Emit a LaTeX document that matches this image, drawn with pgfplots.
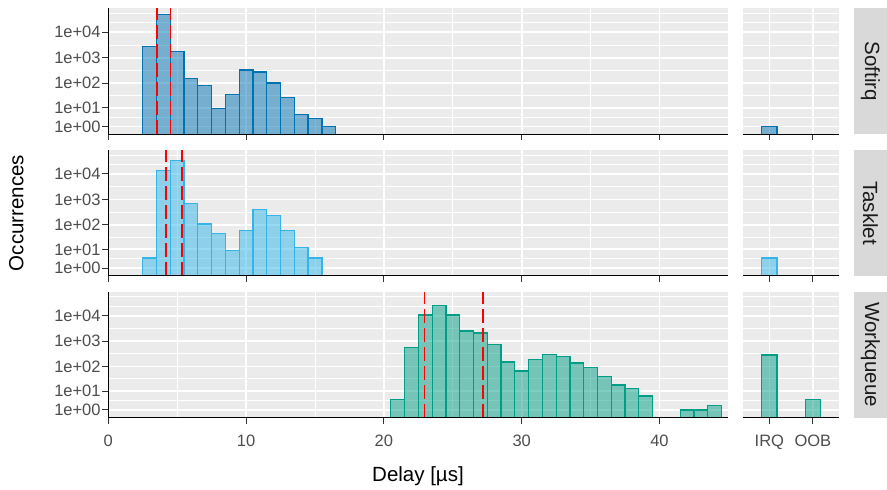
\documentclass[border=0pt]{standalone}
\usepackage{pgfplots}
\usepackage{pgfplotstable}
\pgfplotsset{compat=1.18}
\usepackage{fontspec}
\setmainfont{Liberation Sans}
\definecolor{softc}{HTML}{0072B2}
\definecolor{taskc}{HTML}{33B5EA}
\definecolor{workc}{HTML}{009E85}
\definecolor{panelbg}{HTML}{EBEBEB}
\definecolor{stripbg}{HTML}{D9D9D9}
\definecolor{ticklab}{HTML}{4D4D4D}
\definecolor{tickc}{HTML}{333333}
\definecolor{striptext}{HTML}{1A1A1A}

% histogram counts (bin centre in us, occurrences)
\pgfplotstableread{
x n
3 2700
4 50000
5 1800
6 147
7 78
8 9
9 34
10 330
11 277
12 100
13 26
14 5
15 3
16 1
}\softtab
\pgfplotstableread{
x n
3 4
4 14000
5 34000
6 690
7 108
8 44
9 9
10 61
11 400
12 234
13 61
14 12
15 4
}\tasktab
\pgfplotstableread{
x n
21 4
22 577
23 10500
24 25000
25 10500
26 2500
27 2100
28 735
29 150
30 67
31 185
32 300
33 250
34 137
35 93
36 40
37 18
38 13
39 6
42 1
43 1
44 2
}\worktab
% IRQ = 1, OOB = 2
\pgfplotstableread{
x n
1 1
2 0
}\softcat
\pgfplotstableread{
x n
1 4
2 0
}\taskcat
\pgfplotstableread{
x n
1 282
2 4
}\workcat

\pgfplotsset{
  panel/.style={
    scale only axis, height=125.8pt,
    axis background/.style={fill=panelbg},
    ymin=0, ymax=4.935,
    ytick={0.30103,1.04139,2.00432,3.00043,4.00004},
    minor ytick={0.67121,1.52286,2.50238,3.50024,4.37022,4.74040},
    grid=both,
    major grid style={white, line width=1.8pt},
    minor grid style={white, line width=0.9pt},
    axis x line*=bottom, axis y line*=left,
    axis line style={-, black, line width=1.2pt},
    tick align=outside, major tick length=6pt, minor tick length=0pt,
    tick style={tickc, line width=1.1pt},
    tick label style={font=\fontsize{16.5}{18}\selectfont, text=ticklab},
    yticklabel style={anchor=east, inner sep=0pt, xshift=-1.5pt},
    xticklabel style={anchor=north, inner sep=0pt, yshift=-11pt},
  },
  leftpanel/.style={panel, width=619.4pt, xmin=0, xmax=44.95,
    xtick={0,10,20,30,40}, minor xtick={5,15,25,35},
    yticklabels={1e+00,1e+01,1e+02,1e+03,1e+04}},
  rightpanel/.style={panel, width=95.7pt, xmin=0.4, xmax=2.6,
    xtick={1,2}, yticklabels={}, ytick style={draw=none},
    y axis line style={draw=none}},
  histbar/.style={ybar, bar width=1, bar shift=0pt, draw=#1, fill=#1, fill opacity=0.5, line width=1.25pt},
  catbar/.style={ybar, bar width=0.35, bar shift=0pt, draw=#1, fill=#1, fill opacity=0.5, line width=1.25pt},
  qline/.style={red, line width=1.8pt, dash pattern=on 14pt off 5pt},
}

\begin{document}
\begin{tikzpicture}[x=1pt,y=1pt]
\path (0,0) rectangle (887,486);

% ---------- Softirq ----------
\begin{axis}[leftpanel, at={(108.3pt,351.8pt)}, anchor=south west, xticklabels={}]
\addplot[histbar=softc] table[x=x, y expr={log10(\thisrow{n}+1)}] {\softtab};
\addplot[qline] coordinates {(3.53,0) (3.53,4.935)};
\addplot[qline] coordinates {(4.52,0) (4.52,4.935)};
\draw[black, line width=1.2pt] (axis cs:0,0) -- (axis cs:44.95,0);
\end{axis}
\begin{axis}[rightpanel, at={(743.3pt,351.8pt)}, anchor=south west, xticklabels={}]
\addplot[catbar=softc] table[x=x, y expr={log10(\thisrow{n}+1)}] {\softcat};
\draw[black, line width=1.2pt] (axis cs:0.4,0) -- (axis cs:2.6,0);
\end{axis}

% ---------- Tasklet ----------
\begin{axis}[leftpanel, at={(108.3pt,210.1pt)}, anchor=south west, xticklabels={}]
\addplot[histbar=taskc] table[x=x, y expr={log10(\thisrow{n}+1)}] {\tasktab};
\addplot[qline] coordinates {(4.19,0) (4.19,4.935)};
\addplot[qline] coordinates {(5.35,0) (5.35,4.935)};
\draw[black, line width=1.2pt] (axis cs:0,0) -- (axis cs:44.95,0);
\end{axis}
\begin{axis}[rightpanel, at={(743.3pt,210.1pt)}, anchor=south west, xticklabels={}]
\addplot[catbar=taskc] table[x=x, y expr={log10(\thisrow{n}+1)}] {\taskcat};
\draw[black, line width=1.2pt] (axis cs:0.4,0) -- (axis cs:2.6,0);
\end{axis}

% ---------- Workqueue ----------
\begin{axis}[leftpanel, at={(108.3pt,68.4pt)}, anchor=south west, xticklabels={0,10,20,30,40}]
\addplot[histbar=workc] table[x=x, y expr={log10(\thisrow{n}+1)}] {\worktab};
\addplot[qline] coordinates {(22.95,0) (22.95,4.935)};
\addplot[qline] coordinates {(27.2,0) (27.2,4.935)};
\draw[black, line width=1.2pt] (axis cs:0,0) -- (axis cs:44.95,0);
\end{axis}
\begin{axis}[rightpanel, at={(743.3pt,68.4pt)}, anchor=south west, xticklabels={IRQ,OOB}]
\addplot[catbar=workc] table[x=x, y expr={log10(\thisrow{n}+1)}] {\workcat};
\draw[black, line width=1.2pt] (axis cs:0.4,0) -- (axis cs:2.6,0);
\end{axis}

% ---------- strips ----------
\foreach \yb/\lab in {351.8/Softirq, 210.1/Tasklet, 68.4/Workqueue}{
  \fill[stripbg] (854,\yb) rectangle (887,\yb+125.8);
  \node[rotate=-90, text=striptext, font=\fontsize{20.5}{24}\selectfont] at (870.5,\yb+62.9) {\lab};
}

% ---------- axis titles ----------
\node[anchor=base, font=\fontsize{20.5}{24}\selectfont] at (418,4.3) {Delay [µs]};
\node[rotate=90, anchor=base, font=\fontsize{20.5}{24}\selectfont] at (23.5,273) {Occurrences};
\end{tikzpicture}
\end{document}
